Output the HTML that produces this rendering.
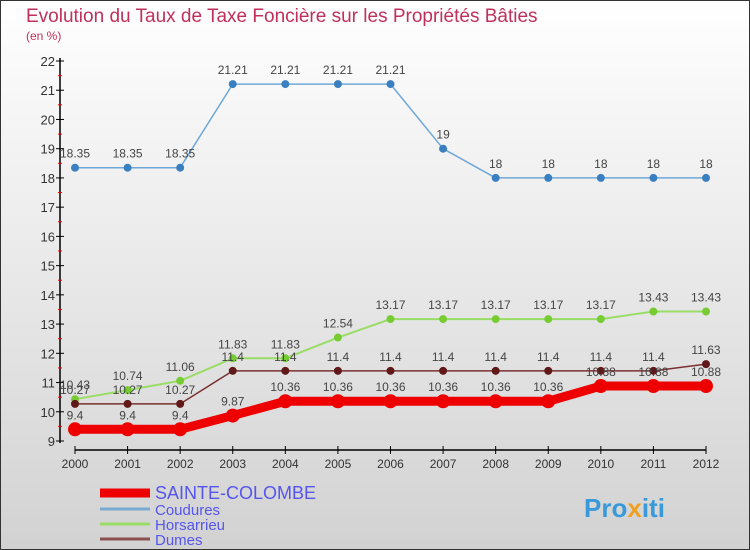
<!DOCTYPE html>
<html><head><meta charset="utf-8"><style>
body{margin:0}
#c{width:750px;height:550px;position:relative;overflow:hidden;font-family:"Liberation Sans",sans-serif}
</style></head><body>
<div id="c">
<svg id="s" width="750" height="550" xmlns="http://www.w3.org/2000/svg">
<defs><linearGradient id="bg" x1="0" y1="0" x2="0" y2="1"><stop offset="0" stop-color="#ffffff"/><stop offset="1" stop-color="#d2d2d2"/></linearGradient></defs>
<rect x="0.5" y="0.5" width="749" height="549" fill="url(#bg)" stroke="#333"/>
<text x="26" y="22" font-size="19" fill="#c0305a">Evolution du Taux de Taxe Foncière sur les Propriétés Bâties</text>
<text x="26" y="40" font-size="12" fill="#c0305a">(en %)</text>
<g id="axes"></g><g id="series"></g><g id="legend"></g>
<text x="584" y="517" font-size="26" font-weight="bold" fill="#3a9ad9">Pro<tspan fill="#f0a020">x</tspan>iti</text>
</svg></div>
<script>
const years=[2000,2001,2002,2003,2004,2005,2006,2007,2008,2009,2010,2011,2012];
const yTicks=[9,10,11,12,13,14,15,16,17,18,19,20,21,22];
const sainteColombe=[9.4,9.4,9.4,9.87,10.36,10.36,10.36,10.36,10.36,10.36,10.88,10.88,10.88];
const coudures=[18.35,18.35,18.35,21.21,21.21,21.21,21.21,19,18,18,18,18,18];
const horsarrieu=[10.43,10.74,11.06,11.83,11.83,12.54,13.17,13.17,13.17,13.17,13.17,13.43,13.43];
const dumes=[10.27,10.27,10.27,11.4,11.4,11.4,11.4,11.4,11.4,11.4,11.4,11.4,11.63];
const NS="http://www.w3.org/2000/svg";
const X=i=>75+i*(706-75)/12;
const Y=v=>441-(v-9)*(441-61)/13;
function mk(p,t,a){const e=document.createElementNS(NS,t);for(const k in a)e.setAttribute(k,a[k]);p.appendChild(e);return e;}
const ax=document.getElementById('axes');
let l=mk(ax,'line',{x1:60,y1:58,x2:60,y2:443,stroke:'#000','stroke-width':1.5});


l=mk(ax,'line',{x1:75,y1:450,x2:706,y2:450,stroke:'#000','stroke-width':1.5});


yTicks.forEach(v=>{
 mk(ax,'line',{x1:56,y1:Y(v),x2:64,y2:Y(v),stroke:'#000'});
 if(v<22) mk(ax,'line',{x1:58,y1:Y(v+0.5),x2:62,y2:Y(v+0.5),stroke:'#e00'});
 const t=mk(ax,'text',{x:55,y:Y(v)+5,'text-anchor':'end','font-size':13,fill:'#333'});t.textContent=v;
 
 
});
years.forEach((yr,i)=>{
 mk(ax,'line',{x1:X(i),y1:446,x2:X(i),y2:454,stroke:'#000'});
 const t=mk(ax,'text',{x:X(i),y:468,'text-anchor':'middle','font-size':12,fill:'#333'});t.textContent=yr;
 
 
});
const sg=document.getElementById('series');
function draw(name,data,col,w,r,dot,fs){
 const g=mk(sg,'g',{});
 
 
 mk(g,'polyline',{points:data.map((v,i)=>X(i)+','+Y(v)).join(' '),fill:'none',stroke:col,'stroke-width':w,'stroke-linejoin':'round'});
 data.forEach((v,i)=>{
  const c=mk(g,'circle',{cx:X(i),cy:Y(v),r:r,fill:dot});
  
  
  const t=mk(g,'text',{x:X(i),y:Y(v)-10,'text-anchor':'middle','font-size':fs,fill:'#444'});t.textContent=v;
  
  
 });
}
draw('coudures',coudures,'#6fa8d8',1.5,4,'#3a80c0',12);
draw('horsarrieu',horsarrieu,'#99dd66',2,4,'#77cc33',12);
draw('dumes',dumes,'#7a3030',1.5,4,'#601818',12);
draw('sainte-colombe',sainteColombe,'#ee0000',9,7,'#ee0000',12);
const lg=document.getElementById('legend');
const items=[['SAINTE-COLOMBE','#ee0000',9,16],['Coudures','#7aaad0',3,13],['Horsarrieu','#99dd66',3,13],['Dumes','#8a5050',3,13]];
const ly=[493,509,524,539];
items.forEach((it,i)=>{
 const g=mk(lg,'g',{});
 
 
 mk(g,'line',{x1:100,y1:ly[i],x2:150,y2:ly[i],stroke:it[1],'stroke-width':it[2]});
 const t=mk(g,'text',{x:155,y:ly[i]+6,'font-size':it[3]+2,fill:'#5555ee'});t.textContent=it[0];
});
</script>
</body></html>
